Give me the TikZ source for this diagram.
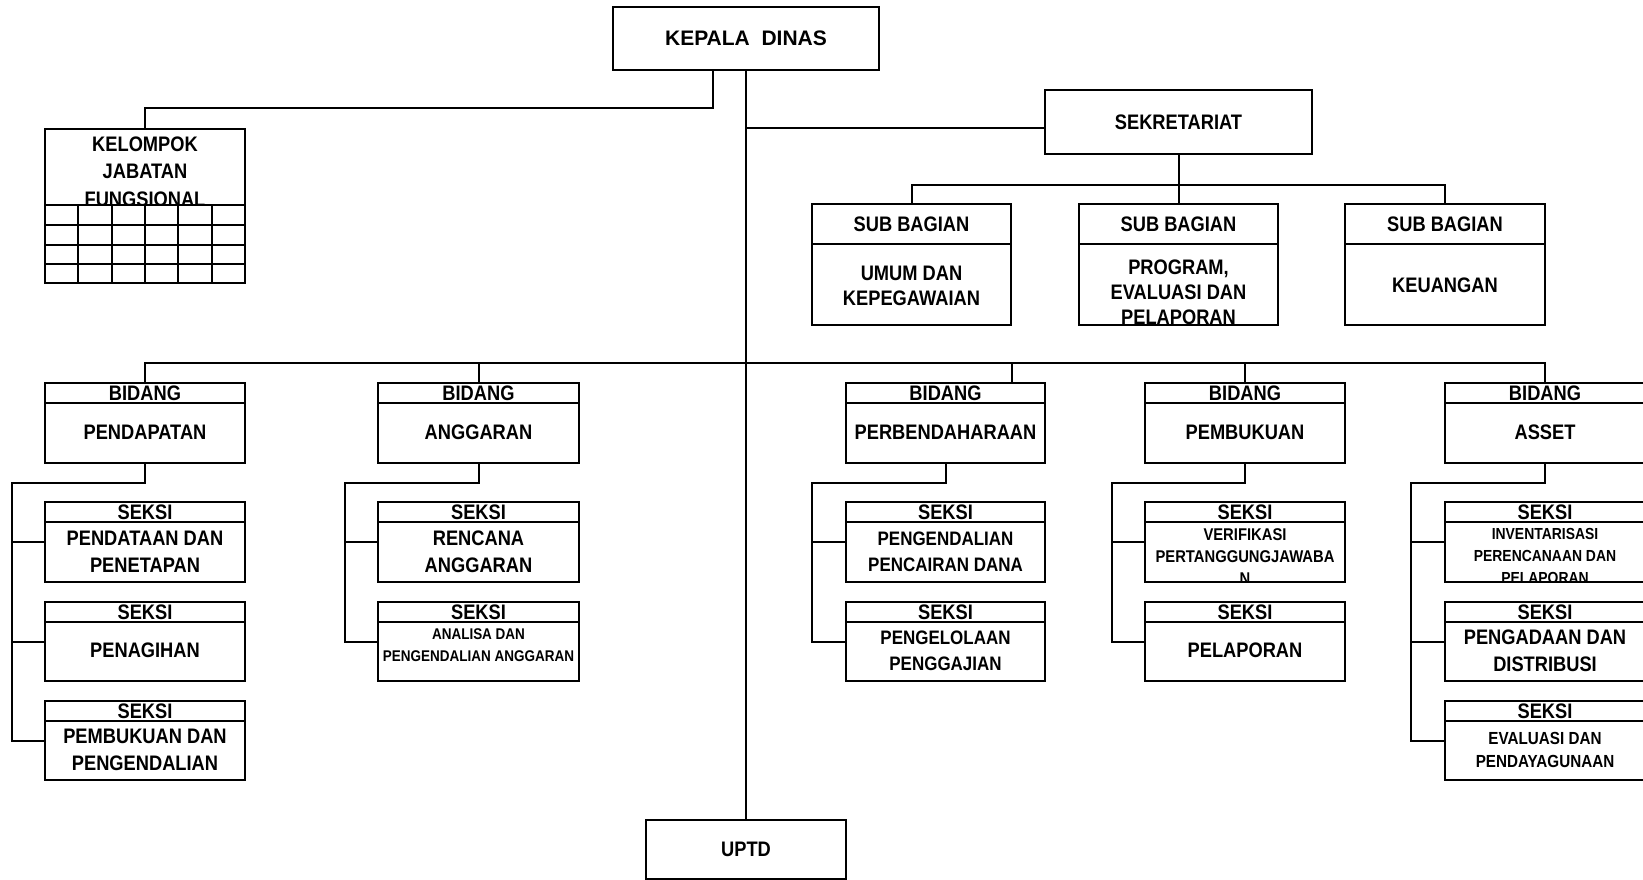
\documentclass[tikz,border=0pt]{standalone}
\usepackage{fontspec}
\newfontfamily\nar{Liberation Sans}[FakeStretch=0.87]
\newfontfamily\wid{Liberation Sans}
\newcommand{\fA}{\nar\bfseries\fontsize{21}{27}\selectfont}
% box with header: name, left, right, top, divider, bottom, header text
\newcommand{\orgbox}[7]{%
  \node[bx, minimum width={(#3)-(#2)}, minimum height={(#6)-(#4)}] (#1) at ({((#2)+(#3))/2},{((#4)+(#6))/2}) {};
  \draw[ln] (#2,#5) -- (#3,#5);
  \node[tx, font=\fA] at ({((#2)+(#3))/2},{((#4)+(#5))/2}) {#7};
}
% body text clipped to box: name, y centre, font, text
\newcommand{\btxt}[4]{%
  \begin{scope}
    \clip (#1.south west) rectangle (#1.north east);
    \node[tx, font=#3] at (#1.north |- 0,#2) {#4};
  \end{scope}}
\begin{document}
\begin{tikzpicture}[x=1pt,y=-1pt,
  ln/.style={line width=2pt},
  bx/.style={draw, line width=2pt, inner sep=0pt, outer sep=0pt, rectangle},
  tx/.style={align=center, inner sep=0pt, text=black},
]
\useasboundingbox (0,0) rectangle (1643,880);
\fill[white] (0,0) rectangle (1643,880);

% top level
\node[bx, minimum width=266, minimum height=63, font=\wid\bfseries\fontsize{21}{25}\selectfont] (kd) at (746,38.5) {KEPALA~ DINAS};
\node[bx, minimum width=200, minimum height=59, font=\fA] (uptd) at (746,849.5) {UPTD};
\node[bx, minimum width=267, minimum height=64, font=\fA] (sek) at (1178.5,122) {SEKRETARIAT};

% kelompok jabatan fungsional
\node[bx, minimum width=200, minimum height=154] (kjf) at (145,206) {};
\foreach \yy in {205,225,245,264} \draw[ln] (45,\yy) -- (245,\yy);
\foreach \xx in {78.3,111.7,145,178.3,211.7} \draw[ln] (\xx,205) -- (\xx,283);
\begin{scope}
  \clip (kjf.north west) rectangle (245,205);
  \node[tx, font=\nar\bfseries\fontsize{21}{27.5}\selectfont] at (145,171.5) {KELOMPOK\\JABATAN\\FUNGSIONAL};
\end{scope}

% sub bagian
\orgbox{sb1}{812}{1011}{204}{244}{325}{SUB BAGIAN}
\btxt{sb1}{285.5}{\nar\bfseries\fontsize{21}{25}\selectfont}{UMUM DAN\\KEPEGAWAIAN}
\orgbox{sb2}{1079}{1278}{204}{244}{325}{SUB BAGIAN}
\btxt{sb2}{292}{\nar\bfseries\fontsize{21}{25}\selectfont}{PROGRAM,\\EVALUASI DAN\\PELAPORAN}
\orgbox{sb3}{1345}{1545}{204}{244}{325}{SUB BAGIAN}
\btxt{sb3}{285}{\fA}{KEUANGAN}

% bidang
\orgbox{b1}{45}{245}{383}{403}{463}{BIDANG}
\btxt{b1}{432.5}{\fA}{PENDAPATAN}
\orgbox{b2}{378}{579}{383}{403}{463}{BIDANG}
\btxt{b2}{432.5}{\fA}{ANGGARAN}
\orgbox{b3}{846}{1045}{383}{403}{463}{BIDANG}
\btxt{b3}{432.5}{\fA}{PERBENDAHARAAN}
\orgbox{b4}{1145}{1345}{383}{403}{463}{BIDANG}
\btxt{b4}{432.5}{\fA}{PEMBUKUAN}
\orgbox{b5}{1445}{1645}{383}{403}{463}{BIDANG}
\btxt{b5}{432.5}{\fA}{ASSET}

% seksi - pendapatan
\orgbox{s11}{45}{245}{502}{522}{582}{SEKSI}
\btxt{s11}{551.5}{\fA}{PENDATAAN DAN\\PENETAPAN}
\orgbox{s12}{45}{245}{602}{622}{681}{SEKSI}
\btxt{s12}{650.5}{\fA}{PENAGIHAN}
\orgbox{s13}{45}{245}{701}{721}{780}{SEKSI}
\btxt{s13}{749.5}{\fA}{PEMBUKUAN DAN\\PENGENDALIAN}
% seksi - anggaran
\orgbox{s21}{378}{579}{502}{522}{582}{SEKSI}
\btxt{s21}{551.5}{\fA}{RENCANA\\ANGGARAN}
\orgbox{s22}{378}{579}{602}{622}{681}{SEKSI}
\btxt{s22}{645}{\nar\bfseries\fontsize{15.5}{22}\selectfont}{ANALISA DAN\\PENGENDALIAN ANGGARAN}
% seksi - perbendaharaan
\orgbox{s31}{846}{1045}{502}{522}{582}{SEKSI}
\btxt{s31}{552}{\nar\bfseries\fontsize{19.5}{25.5}\selectfont}{PENGENDALIAN\\PENCAIRAN DANA}
\orgbox{s32}{846}{1045}{602}{622}{681}{SEKSI}
\btxt{s32}{651}{\nar\bfseries\fontsize{19.5}{25.5}\selectfont}{PENGELOLAAN\\PENGGAJIAN}
% seksi - pembukuan
\orgbox{s41}{1145}{1345}{502}{522}{582}{SEKSI}
\btxt{s41}{557}{\nar\bfseries\fontsize{17}{22}\selectfont}{VERIFIKASI\\PERTANGGUNGJAWABA\\N}
\orgbox{s42}{1145}{1345}{602}{622}{681}{SEKSI}
\btxt{s42}{650.5}{\fA}{PELAPORAN}
% seksi - asset
\orgbox{s51}{1445}{1645}{502}{522}{582}{SEKSI}
\btxt{s51}{556}{\nar\bfseries\fontsize{16}{22}\selectfont}{INVENTARISASI\\PERENCANAAN DAN\\PELAPORAN}
\orgbox{s52}{1445}{1645}{602}{622}{681}{SEKSI}
\btxt{s52}{650.5}{\fA}{PENGADAAN DAN\\DISTRIBUSI}
\orgbox{s53}{1445}{1645}{701}{721}{780}{SEKSI}
\btxt{s53}{749.5}{\nar\bfseries\fontsize{17.5}{23}\selectfont}{EVALUASI DAN\\PENDAYAGUNAAN}

% ---------- connectors ----------
\draw[ln] (kd.south) -- (uptd.north);
\draw[ln] ([xshift=-33.5pt]kd.south) -- ++(0,38) -| (kjf.north);
\coordinate (sj) at ([yshift=-6pt]sek.west);
\draw[ln] (sj) -- (sj -| kd.south);

\coordinate (sbus) at (0,185);
\draw[ln] (sek.south) -- (sek.south |- sbus);
\draw[ln] (sb1.north) -- (sb1.north |- sbus) -- (sb3.north |- sbus) -- (sb3.north);
\draw[ln] (sb2.north) -- (sb2.north |- sbus);

\coordinate (bus) at (0,363);
\draw[ln] (b1.north) -- (b1.north |- bus) -- (b5.north |- bus) -- (b5.north);
\draw[ln] (b2.north) -- (b2.north |- bus);
\coordinate (b3t) at ([xshift=66.5pt]b3.north);
\draw[ln] (b3t) -- (b3t |- bus);
\draw[ln] (b4.north) -- (b4.north |- bus);

\coordinate (sp1) at (12,483);
\coordinate (sp2) at (345,483);
\coordinate (sp3) at (812,483);
\coordinate (sp4) at (1112,483);
\coordinate (sp5) at (1411,483);

\draw[ln] (b1.south) |- (sp1) |- (s13.west);
\draw[ln] (s11.west) -- (s11.west -| sp1);
\draw[ln] (s12.west) -- (s12.west -| sp1);

\draw[ln] (b2.south) |- (sp2) |- (s22.west);
\draw[ln] (s21.west) -- (s21.west -| sp2);

\draw[ln] (b3.south) |- (sp3) |- (s32.west);
\draw[ln] (s31.west) -- (s31.west -| sp3);

\draw[ln] (b4.south) |- (sp4) |- (s42.west);
\draw[ln] (s41.west) -- (s41.west -| sp4);

\draw[ln] (b5.south) |- (sp5) |- (s53.west);
\draw[ln] (s51.west) -- (s51.west -| sp5);
\draw[ln] (s52.west) -- (s52.west -| sp5);
\end{tikzpicture}
\end{document}
